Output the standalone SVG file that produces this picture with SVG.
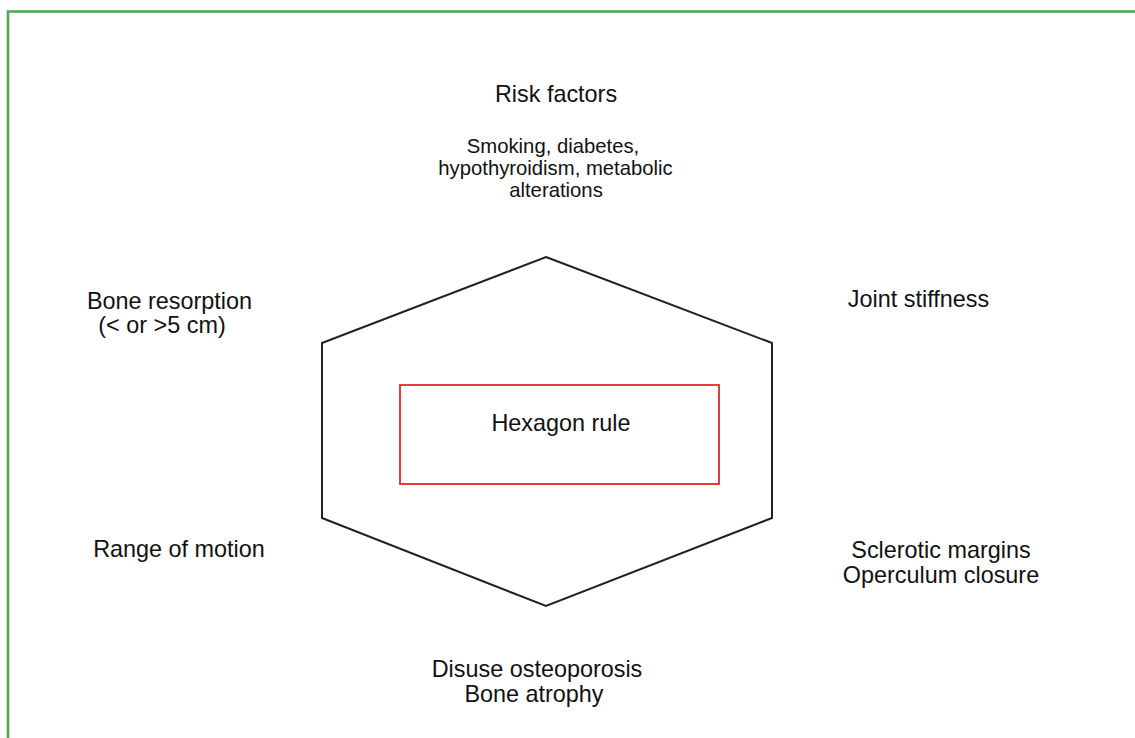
<svg xmlns="http://www.w3.org/2000/svg" width="1135" height="738" viewBox="0 0 1135 738">
<style>
.lbl{font-family:"Liberation Sans",Arial,sans-serif;font-size:23.4px;fill:#111;text-anchor:middle}
.sub{font-family:"Liberation Sans",Arial,sans-serif;font-size:20.3px;fill:#111;text-anchor:middle}
.frame{fill:none;stroke:#4aa846;stroke-width:2.5}
</style>
<rect width="1135" height="738" fill="#fff"/>
<path class="frame" d="M8 740 V11.5 H1137"/>
<g id="hexagon">
<polygon points="546,257 772,343 772,518 546,606 322,518 322,343" fill="none" stroke="#222" stroke-width="2"/>
</g>
<g id="center">
<rect x="400" y="385" width="319" height="99" fill="none" stroke="#e0282a" stroke-width="1.8"/>
<text class="lbl" x="561" y="431">Hexagon rule</text>
</g>
<g id="risk-factors">
<text class="lbl" x="556" y="102">Risk factors</text>
<text class="sub" x="553" y="153">Smoking, diabetes,</text>
<text class="sub" x="555.5" y="175">hypothyroidism, metabolic</text>
<text class="sub" x="556" y="197">alterations</text>
</g>
<g id="bone-resorption">
<text class="lbl" x="169.5" y="309">Bone resorption</text>
<text class="lbl" x="162" y="333">(&lt; or &gt;5 cm)</text>
</g>
<g id="joint-stiffness">
<text class="lbl" x="918.5" y="307">Joint stiffness</text>
</g>
<g id="range-of-motion">
<text class="lbl" x="179" y="557">Range of motion</text>
</g>
<g id="sclerotic">
<text class="lbl" x="941" y="558">Sclerotic margins</text>
<text class="lbl" x="941" y="582.5">Operculum closure</text>
</g>
<g id="disuse">
<text class="lbl" x="537" y="677">Disuse osteoporosis</text>
<text class="lbl" x="534" y="701.5">Bone atrophy</text>
</g>
<g id="connectors"></g>
</svg>
